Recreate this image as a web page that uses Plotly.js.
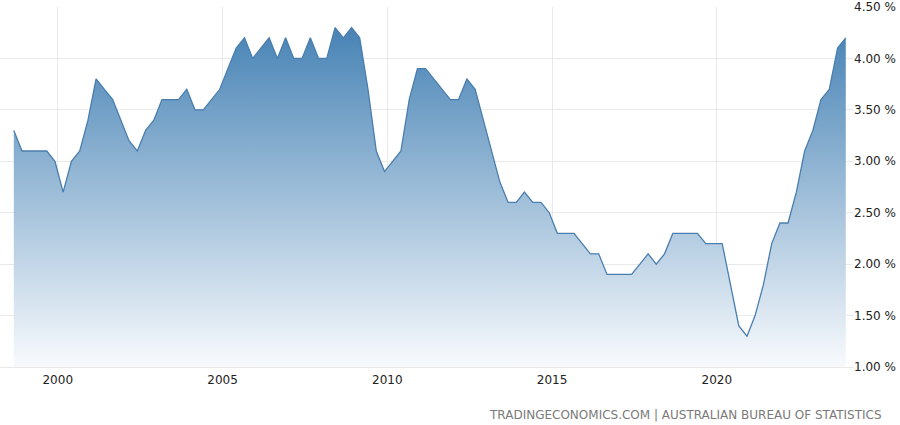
<!DOCTYPE html>
<html>
<head>
<meta charset="utf-8">
<script src="https://cdn.plot.ly/plotly-3.0.1.min.js"></script>
<style>
  html, body { margin: 0; padding: 0; background: #ffffff; }
  #chart { width: 900px; height: 425px; }
</style>
</head>
<body>
<div id="chart"></div>
<script>
// Quarterly wage growth (YoY, %), Sep 1998 – Dec 2023
const firstYear = 1998;
const firstMonth = 9;
const wageGrowth = [
  3.3, 3.1, 3.1, 3.1, 3.1, 3.0, 2.7, 3.0, 3.1, 3.4,
  3.8, 3.7, 3.6, 3.4, 3.2, 3.1, 3.3, 3.4, 3.6, 3.6,
  3.6, 3.7, 3.5, 3.5, 3.6, 3.7, 3.9, 4.1, 4.2, 4.0,
  4.1, 4.2, 4.0, 4.2, 4.0, 4.0, 4.2, 4.0, 4.0, 4.3,
  4.2, 4.3, 4.2, 3.7, 3.1, 2.9, 3.0, 3.1, 3.6, 3.9,
  3.9, 3.8, 3.7, 3.6, 3.6, 3.8, 3.7, 3.4, 3.1, 2.8,
  2.6, 2.6, 2.7, 2.6, 2.6, 2.5, 2.3, 2.3, 2.3, 2.2,
  2.1, 2.1, 1.9, 1.9, 1.9, 1.9, 2.0, 2.1, 2.0, 2.1,
  2.3, 2.3, 2.3, 2.3, 2.2, 2.2, 2.2, 1.8, 1.4, 1.3,
  1.5, 1.8, 2.2, 2.4, 2.4, 2.7, 3.1, 3.3, 3.6, 3.7,
  4.1, 4.2
];
const xTickVals = ['2000-01-01', '2005-01-01', '2010-01-01', '2015-01-01', '2020-01-01'];
const xTickText = ['2000', '2005', '2010', '2015', '2020'];
const sourceText = 'TRADINGECONOMICS.COM | AUSTRALIAN BUREAU OF STATISTICS';

// quarter dates (category axis)
const quarterDates = [];
for (let i = 0; i < wageGrowth.length; i++) {
  const m0 = (firstMonth - 1) + 3 * i;
  const y = firstYear + Math.floor(m0 / 12);
  const m = (m0 % 12) + 1;
  quarterDates.push(y + '-' + String(m).padStart(2, '0') + '-01');
}

const trace = {
  type: 'scatter',
  mode: 'lines',
  x: quarterDates,
  y: wageGrowth,
  line: { color: '#4a7eae', width: 1.3 },
  fill: 'tozeroy',
  fillgradient: {
    type: 'vertical',
    start: 1.0,
    stop: 4.3,
    colorscale: [[0, '#f8fafd'], [1, '#4783b5']]
  },
  hoverinfo: 'x+y'
};

const layout = {
  width: 900,
  height: 425,
  margin: { l: 0, r: 47, t: 7, b: 58 },
  paper_bgcolor: '#ffffff',
  plot_bgcolor: '#ffffff',
  showlegend: false,
  font: { family: 'DejaVu Sans, sans-serif', size: 12, color: '#333333' },
  xaxis: {
    type: 'date',
    range: ['1998-04-01', '2024-02-19'],
    tickvals: xTickVals,
    ticktext: xTickText,
    showgrid: true,
    gridcolor: '#e9e9e9',
    gridwidth: 1,
    zeroline: false,
    showline: true,
    linecolor: '#e9e9e9',
    linewidth: 1,
    ticks: '',
    ticklabelstandoff: 2,
    tickfont: { family: 'DejaVu Sans, sans-serif', size: 12, color: '#222222' }
  },
  yaxis: {
    side: 'right',
    range: [1, 4.5],
    dtick: 0.5,
    tick0: 1,
    tickformat: '.2f',
    ticksuffix: ' %',
    showgrid: true,
    gridcolor: '#e9e9e9',
    gridwidth: 1,
    zeroline: false,
    showline: false,
    ticks: '',
    tickfont: { family: 'DejaVu Sans, sans-serif', size: 12, color: '#222222' }
  },
  annotations: [{
    text: sourceText,
    xref: 'paper', yref: 'paper',
    x: 1.0364, y: -0.1333,
    xanchor: 'right', yanchor: 'middle',
    showarrow: false,
    font: { family: 'DejaVu Sans, sans-serif', size: 12, color: '#7a7a7a' }
  }]
};

Plotly.newPlot('chart', [trace], layout, { displayModeBar: false, staticPlot: true });
</script>
</body>
</html>
